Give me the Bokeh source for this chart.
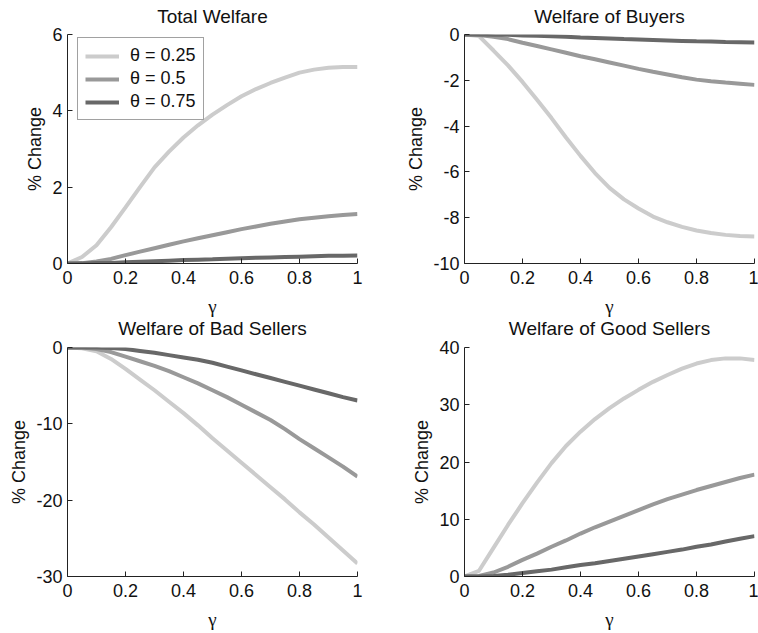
from bokeh.plotting import figure
from bokeh.layouts import column, row
from bokeh.models import Range1d, FixedTicker, Legend, LegendItem
from bokeh.embed import file_html
from bokeh.resources import INLINE

# ---- data ----
gamma = [0, 0.05, 0.1, 0.15, 0.2, 0.25, 0.3, 0.35, 0.4, 0.45, 0.5,
         0.55, 0.6, 0.65, 0.7, 0.75, 0.8, 0.85, 0.9, 0.95, 1.0]
theta_labels = ["\u03b8 = 0.25", "\u03b8 = 0.5", "\u03b8 = 0.75"]
titles = ["Total Welfare", "Welfare of Buyers", "Welfare of Bad Sellers", "Welfare of Good Sellers"]

total_025 = [0, 0.17, 0.48, 0.95, 1.47, 2.0, 2.52, 2.93, 3.3, 3.62, 3.9,
             4.15, 4.38, 4.57, 4.73, 4.87, 5.0, 5.08, 5.13, 5.15, 5.15]
total_050 = [0, 0.01, 0.05, 0.12, 0.22, 0.31, 0.4, 0.49, 0.58, 0.66, 0.74,
             0.82, 0.9, 0.97, 1.04, 1.1, 1.16, 1.2, 1.24, 1.27, 1.3]
total_075 = [0, 0, 0.01, 0.015, 0.03, 0.045, 0.06, 0.075, 0.09, 0.1, 0.11,
             0.125, 0.14, 0.15, 0.16, 0.17, 0.18, 0.19, 0.2, 0.205, 0.21]

buyers_025 = [0, -0.07, -0.7, -1.35, -2.07, -2.85, -3.65, -4.5, -5.3, -6.05, -6.7,
              -7.2, -7.6, -7.95, -8.2, -8.4, -8.56, -8.67, -8.75, -8.8, -8.82]
buyers_050 = [0, -0.02, -0.1, -0.2, -0.36, -0.5, -0.65, -0.8, -0.95, -1.08, -1.22,
              -1.36, -1.5, -1.63, -1.75, -1.87, -1.97, -2.04, -2.1, -2.15, -2.2]
buyers_075 = [0, 0, -0.01, -0.015, -0.04, -0.06, -0.08, -0.1, -0.13, -0.15, -0.17,
              -0.2, -0.22, -0.24, -0.26, -0.28, -0.3, -0.31, -0.33, -0.34, -0.35]

bad_025 = [0, -0.1, -0.5, -1.5, -2.8, -4.2, -5.6, -7.1, -8.6, -10.2, -11.9,
           -13.5, -15.1, -16.7, -18.3, -19.9, -21.6, -23.2, -24.9, -26.6, -28.3]
bad_050 = [0, 0, -0.2, -0.6, -1.2, -1.8, -2.4, -3.1, -3.9, -4.7, -5.6,
           -6.5, -7.5, -8.5, -9.5, -10.7, -12.0, -13.2, -14.4, -15.6, -16.9]
bad_075 = [0, 0, 0, -0.05, -0.2, -0.45, -0.7, -1.0, -1.3, -1.6, -2.0,
           -2.5, -3.0, -3.5, -4.0, -4.5, -5.0, -5.5, -6.0, -6.5, -6.95]

good_025 = [0, 1.0, 5.0, 9.0, 12.8, 16.4, 19.8, 22.8, 25.3, 27.5, 29.4,
            31.1, 32.6, 34.0, 35.2, 36.3, 37.2, 37.8, 38.1, 38.1, 37.8]
good_050 = [0, 0.1, 0.7, 1.7, 2.9, 4.0, 5.2, 6.3, 7.5, 8.6, 9.6,
            10.6, 11.6, 12.6, 13.5, 14.3, 15.1, 15.8, 16.5, 17.2, 17.8]
good_075 = [0, 0, 0.1, 0.3, 0.6, 0.9, 1.2, 1.6, 2.0, 2.3, 2.7,
            3.1, 3.5, 3.9, 4.3, 4.7, 5.2, 5.6, 6.1, 6.6, 7.05]

x_ticks = [0, 0.2, 0.4, 0.6, 0.8, 1.0]
x_tick_labels = ["0", "0.2", "0.4", "0.6", "0.8", "1"]

colors = ["#cccccc", "#999999", "#686868"]
FONT = "Liberation Sans"
FRAME_W, FRAME_H = 290, 229


def make(title, series, ylo, yhi, yticks, left, right, top, bottom,
         title_standoff, legend=False):
    w = left + FRAME_W + right
    h = top + FRAME_H + bottom
    p = figure(width=w, height=h, output_backend="svg", toolbar_location=None,
               x_range=Range1d(0, 1), y_range=Range1d(ylo, yhi),
               min_border_left=left, min_border_right=right,
               min_border_top=top, min_border_bottom=bottom)
    p.outline_line_color = None
    p.grid.visible = False
    p.background_fill_color = "white"
    p.border_fill_color = None

    p.title.text = title
    p.title.align = "center"
    p.title.text_font = FONT
    p.title.text_font_size = "19px"
    p.title.text_font_style = "normal"
    p.title.text_color = "#111111"
    p.title.standoff = title_standoff

    for ax in (p.xaxis[0], p.yaxis[0]):
        ax.axis_line_color = "#222222"
        ax.major_tick_line_color = "#222222"
        ax.major_tick_in = 5
        ax.major_tick_out = 0
        ax.minor_tick_line_color = None
        ax.major_label_text_font = FONT
        ax.major_label_text_font_size = "18px"
        ax.major_label_text_color = "#111111"

    p.xaxis.ticker = FixedTicker(ticks=x_ticks)
    p.xaxis.major_label_overrides = dict(zip(x_ticks, x_tick_labels))
    p.xaxis.major_label_standoff = 7
    p.xaxis.axis_label = "\u03b3"
    p.xaxis.axis_label_text_font = "Liberation Serif"
    p.xaxis.axis_label_text_font_style = "normal"
    p.xaxis.axis_label_text_font_size = "19px"
    p.xaxis.axis_label_standoff = 9
    p.xaxis.axis_label_text_color = "#111111"

    p.yaxis.ticker = FixedTicker(ticks=yticks)
    p.yaxis.major_label_overrides = {t: str(t) for t in yticks}
    p.yaxis.major_label_standoff = 5
    p.yaxis.axis_label = "% Change"
    p.yaxis.axis_label_text_font = FONT
    p.yaxis.axis_label_text_font_style = "normal"
    p.yaxis.axis_label_text_font_size = "18px"
    p.yaxis.axis_label_standoff = 4
    p.yaxis.axis_label_text_color = "#111111"

    items = []
    for ys, c, lab in zip(series, colors, theta_labels):
        r = p.line(gamma, ys, line_color=c, line_width=4)
        items.append(LegendItem(label=lab, renderers=[r]))

    if legend:
        lg = Legend(items=items, location=(10, 143))
        lg.border_line_color = "#444444"
        lg.border_line_width = 1
        lg.background_fill_color = "white"
        lg.background_fill_alpha = 1
        lg.padding = 7
        lg.margin = 0
        lg.spacing = 2
        lg.glyph_width = 34
        lg.glyph_height = 18
        lg.label_height = 18
        lg.label_standoff = 11
        lg.label_text_font = FONT
        lg.label_text_font_size = "18px"
        lg.label_text_color = "#111111"
        p.add_layout(lg, "center")
    return p


p1 = make(titles[0], [total_025, total_050, total_075], 0, 6, [0, 2, 4, 6],
          67, 22, 40, 60, 16, legend=True)
p2 = make(titles[1], [buyers_025, buyers_050, buyers_075], -10, 0,
          [-10, -8, -6, -4, -2, 0], 85, 4, 40, 60, 16)
p3 = make(titles[2], [bad_025, bad_050, bad_075], -30, 0,
          [-30, -20, -10, 0], 67, 22, 42, 57, 18)
p4 = make(titles[3], [good_025, good_050, good_075], 0, 40,
          [0, 10, 20, 30, 40], 85, 4, 42, 57, 18)

top_row = row(p1, p2, margin=(-6, 0, 0, 0))
bottom_row = row(p3, p4, margin=(-18, 0, 0, 0))
layout = column(top_row, bottom_row)
open("out.html", "w").write(file_html(layout, INLINE))
